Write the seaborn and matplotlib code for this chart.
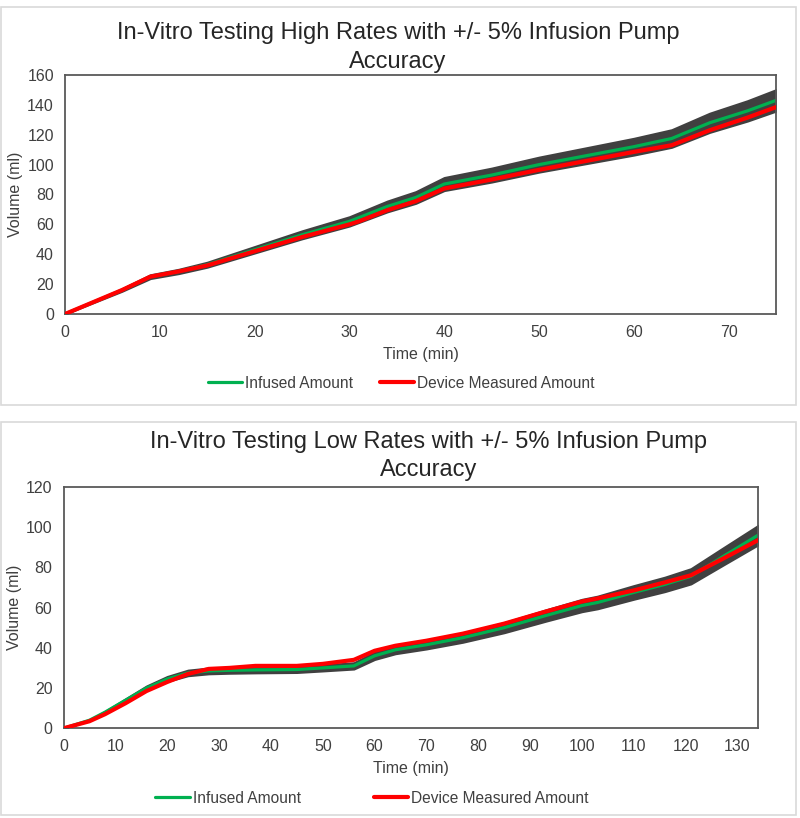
import matplotlib
matplotlib.use("Agg")
import matplotlib.pyplot as plt
from matplotlib.patches import Rectangle
import seaborn as sns
import numpy as np
import pandas as pd

sns.set_theme(style="white")
plt.rcParams['font.family'] = ['Liberation Sans', 'DejaVu Sans']

# high rate test
high_time = [0, 3, 6, 9, 12, 15, 20, 25, 30, 31, 34, 37, 40, 45, 50, 55, 60, 64, 68, 72, 75]
high_infused = [0, 8, 16, 25, 28.5, 33, 43, 53, 62, 64.5, 72, 78, 87, 93, 100, 106, 112, 117.5, 128, 136, 143]
high_device = [0, 8, 16, 25, 28.5, 32.5, 42, 51.5, 60, 62, 69.5, 75.5, 84, 90, 96.5, 102.5, 108.5, 113, 123, 131.5, 138.5]

# low rate test
low_time = [0, 5, 8, 12, 16, 20, 24, 28, 32, 37, 45, 50, 56, 60, 64, 70, 77, 85, 93, 100, 103, 110, 116, 121, 127, 134]
low_infused = [0, 4, 8, 14, 20, 24.5, 27.5, 28.5, 28.8, 29, 29.2, 30, 31, 36, 39, 41.5, 45, 50, 56, 61, 62.5, 67.5, 71.5, 75.5, 85, 96]
low_device = [0, 3.5, 7, 12.5, 18.5, 23, 27, 29.5, 30, 31, 31, 32, 34, 38.5, 41, 43.5, 47, 52, 58, 63, 64.5, 68.5, 72.5, 76, 84, 93.5]

pump_tol = 0.05

GREEN = '#00B050'
RED = '#FF0000'
BAND = '#404040'
TXT = '#404040'

fig = plt.figure(figsize=(8, 8.18), dpi=100)

# panel frames
for y0, h in [(1 - 405 / 818, 398 / 818), (1 - 815 / 818, 393 / 818)]:
    fig.patches.append(Rectangle((1 / 800, y0), 795 / 800, h, transform=fig.transFigure,
                                 fill=False, edgecolor='#d9d9d9', lw=1.2))


def panel(rect, t, infused, device, xmax, ymax, ystep, title, title_x, title_y, leg_x, colspace):
    ax = fig.add_axes(rect)
    df = pd.DataFrame({'time': t, 'infused': infused, 'device': device})
    inf = np.array(infused)
    ax.fill_between(df['time'], inf * (1 - pump_tol), inf * (1 + pump_tol),
                    color=BAND, lw=1.5, edgecolor=BAND, zorder=1)
    long = df.melt(id_vars='time', var_name='series', value_name='vol')
    long['series'] = long['series'].map({'infused': 'Infused Amount', 'device': 'Device Measured Amount'})
    sns.lineplot(data=long[long['series'] == 'Infused Amount'], x='time', y='vol', color=GREEN,
                 lw=2.3, ax=ax, label='Infused Amount', zorder=2)
    sns.lineplot(data=long[long['series'] == 'Device Measured Amount'], x='time', y='vol', color=RED,
                 lw=3, ax=ax, label='Device Measured Amount', zorder=3)
    ax.set_xlim(0, xmax)
    ax.set_ylim(0, ymax)
    ax.set_xticks(np.arange(0, xmax, 10))
    ax.set_yticks(np.arange(0, ymax + 1, ystep))
    ax.tick_params(axis='both', length=0, labelsize=11.5, labelcolor=TXT)
    ax.tick_params(axis='y', pad=8)
    ax.tick_params(axis='x', pad=8)
    for s in ax.spines.values():
        s.set_color('#595959')
        s.set_linewidth(1.3)
    ax.set_xlabel('Time (min)', fontsize=11.5, color=TXT, labelpad=5)
    ax.set_ylabel('Volume (ml)', fontsize=11.5, color=TXT, labelpad=3)
    ax.legend(loc='upper center', bbox_to_anchor=(leg_x, -0.2), ncol=2, frameon=False,
              fontsize=11.2, handlelength=2.2, handletextpad=0.2, columnspacing=colspace,
              labelcolor=TXT)
    fig.text(title_x, title_y, title, ha='center', va='center', fontsize=17,
             color='#262626', linespacing=1.36)
    return ax


panel([65 / 800, 1 - 314 / 818, 711 / 800, 239 / 818], high_time, high_infused, high_device,
      75, 160, 20,
      'In-Vitro Testing High Rates with +/- 5% Infusion Pump\nAccuracy',
      398 / 800, 1 - 47.5 / 818, 0.473, 1.7)

panel([63.5 / 800, 1 - 728.3 / 818, 694.8 / 800, 241.6 / 818], low_time, low_infused, low_device,
      134, 120, 20,
      'In-Vitro Testing Low Rates with +/- 5% Infusion Pump\nAccuracy',
      429 / 800, 1 - 456 / 818, 0.444, 4.7)

fig.savefig('out.png', dpi=100)
